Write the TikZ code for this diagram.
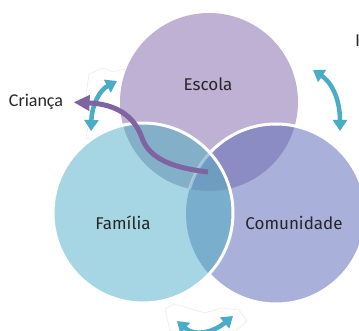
\documentclass[tikz,border=0pt]{standalone}
\usepackage{fontspec}
\setmainfont{Fira Sans}
\newfontfamily\criancafont{Carlito}
\usetikzlibrary{arrows.meta}

\definecolor{escola}{HTML}{BFB1D3}
\definecolor{familia}{HTML}{A6D6E3}
\definecolor{comunidade}{HTML}{A9B0DA}
\definecolor{escfam}{HTML}{83AFC9}
\definecolor{esccom}{HTML}{8B8CC3}
\definecolor{famcom}{HTML}{79AFCD}
\definecolor{todos}{HTML}{6F9DC2}
\definecolor{azul}{HTML}{4BACC6}
\definecolor{roxo}{HTML}{8064A2}

\begin{document}
\begin{tikzpicture}[x=1pt, y=-1pt,
		circlabel/.style={font=\fontsize{17}{20}\selectfont, text=black!85},
		ligacao/.style={line width=4.5pt, draw=azul, {Triangle[width=14pt,length=11pt]}-{Triangle[width=14pt,length=11pt]}},
		papel/.style={fill=white, draw=black!8, line width=0.6pt},
		borda/.style={draw=white, line width=3pt}]
	\useasboundingbox (0,0) rectangle (359,331);

	% centros dos circulos
	\coordinate (esc) at (209,102);
	\coordinate (fam) at (143,213);
	\coordinate (com) at (276,214);

	% papeis atras das setas
	\draw[papel] (89,74) -- (103,68) -- (113,72) -- (124,69) -- (129,78) -- (127,122) -- (119,134) -- (102,141) -- (86,138) -- (90,118) -- (86,96) -- cycle;
	\draw[papel] (165,309) -- (174,304) -- (205,313) -- (221,308) -- (239,310) -- (247,321) -- (236,331) -- (170,331) -- cycle;

	% circulos
	\fill[escola] (esc) circle[radius=89pt];
	\fill[comunidade] (com) circle[radius=90pt];
	\begin{scope}
		\clip (esc) circle[radius=89pt];
		\fill[esccom] (com) circle[radius=90pt];
	\end{scope}
	\draw[borda] (com) circle[radius=90pt];
	\fill[familia] (fam) circle[radius=90pt];
	\begin{scope}
		\clip (fam) circle[radius=90pt];
		\fill[escfam] (esc) circle[radius=89pt];
		\fill[famcom] (com) circle[radius=90pt];
		\clip (esc) circle[radius=89pt];
		\fill[todos] (com) circle[radius=90pt];
		\draw[borda, draw opacity=0.35] (com) circle[radius=90pt];
	\end{scope}
	\draw[borda] (fam) circle[radius=90pt];

	% textos
	\node[circlabel] (escolaTxt) at (208,84) {Escola};
	\node[circlabel] (familiaTxt) at (123,223) {Família};
	\node[circlabel] (comunidadeTxt) at (294,223) {Comunidade};
	\node[circlabel, anchor=west, inner sep=0pt] (cortado) at (355,41) {I};
	\node[font=\criancafont\fontsize{18}{21}\selectfont, text=black!85] (crianca) at (36,102) {Criança};

	% setas duplas
	\coordinate (a1) at (117,81);
	\coordinate (a2) at (91,131);
	\coordinate (b1) at (313,70);
	\coordinate (b2) at (340,131);
	\coordinate (c1) at (177,321);
	\coordinate (c2) at (233,316);
	\draw[ligacao] (a1) .. controls (100,90) and (92,104) .. (a2);
	\draw[ligacao] (b1) .. controls (331,82) and (340,98) .. (b2);
	\draw[ligacao] (c1) .. controls (195,337) and (214,332) .. (c2);

	% seta da crianca
	\coordinate (inicio) at (208,172);
	\draw[roxo, line width=5pt, shorten >=7pt, -{Triangle[width=15pt,length=16pt]}]
		(inicio) .. controls (175,168) and (150,160) .. (142,138)
		.. controls (134,115) and (115,104) .. (crianca.east);
\end{tikzpicture}
\end{document}
